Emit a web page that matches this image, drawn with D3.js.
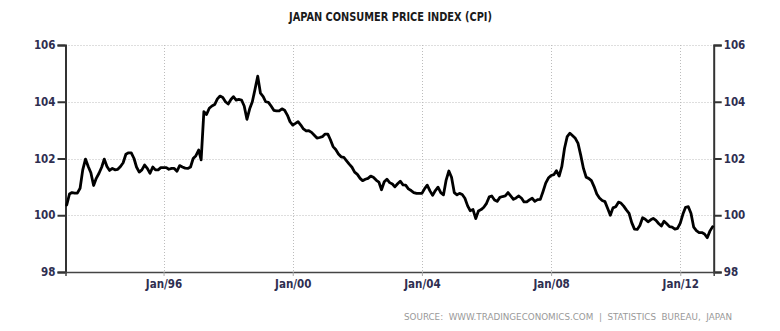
<!DOCTYPE html>
<html><head><meta charset="utf-8">
<script src="https://cdn.jsdelivr.net/npm/d3@7/dist/d3.min.js"></script>
<style>
html,body{margin:0;padding:0;background:#fff;}
svg{display:block;}
</style></head>
<body>
<svg id="chart" width="780" height="331"></svg>
<script>
// ---- data ----
const title = "JAPAN CONSUMER PRICE INDEX (CPI)";
const sourceText = "SOURCE:  WWW.TRADINGECONOMICS.COM  |  STATISTICS  BUREAU,  JAPAN";
const firstMonth = [1993, 0]; // Jan 1993, monthly observations
const cpiValues = [
100.36,100.75,100.8,100.78,100.78,100.95,101.6,101.98,101.72,101.5,101.05,101.3,
101.48,101.7,101.98,101.72,101.58,101.65,101.6,101.62,101.72,101.85,102.15,102.2,
102.2,102.0,101.7,101.52,101.6,101.77,101.65,101.48,101.7,101.6,101.6,101.68,
101.68,101.68,101.62,101.65,101.65,101.55,101.75,101.7,101.66,101.65,101.7,102.0,
102.1,102.3,101.95,103.65,103.55,103.77,103.85,103.9,104.1,104.2,104.15,104.0,
103.92,104.08,104.18,104.06,104.08,104.06,103.85,103.38,103.75,104.0,104.45,104.9,
104.3,104.18,104.0,103.98,103.85,103.7,103.68,103.68,103.75,103.7,103.53,103.3,
103.18,103.24,103.3,103.18,103.04,102.97,102.98,102.92,102.82,102.72,102.74,102.77,
102.86,102.86,102.67,102.42,102.32,102.16,102.06,102.04,101.92,101.8,101.69,101.52,
101.44,101.3,101.22,101.27,101.3,101.38,101.34,101.24,101.17,100.9,101.18,101.27,
101.15,101.1,101.0,101.11,101.2,101.07,101.06,100.93,100.87,100.8,100.77,100.77,
100.77,100.94,101.06,100.86,100.7,100.87,100.99,100.8,100.72,101.24,101.56,101.34,
100.8,100.72,100.77,100.73,100.6,100.33,100.16,100.2,99.88,100.15,100.2,100.28,
100.42,100.65,100.68,100.54,100.49,100.63,100.66,100.68,100.8,100.68,100.56,100.61,
100.68,100.6,100.47,100.47,100.54,100.6,100.49,100.55,100.56,100.83,101.13,101.31,
101.4,101.43,101.57,101.38,101.71,102.36,102.77,102.89,102.8,102.71,102.53,102.12,
101.65,101.34,101.3,101.22,101.01,100.75,100.61,100.52,100.48,100.25,100.0,100.26,
100.3,100.46,100.43,100.32,100.19,100.07,99.74,99.51,99.5,99.64,99.91,99.86,
99.77,99.84,99.89,99.82,99.71,99.62,99.79,99.7,99.6,99.58,99.51,99.54,
99.72,100.05,100.28,100.3,100.07,99.58,99.46,99.39,99.39,99.34,99.21,99.44,
99.6
];
const yTicks = [98, 100, 102, 104, 106];
const xTickYears = [1996, 2000, 2004, 2008, 2012];

// ---- layout ----
const svg = d3.select("#chart");
const plotLeft = 65.5, plotRight = 713.7, plotTop = 45, plotBottom = 272;
const labelColor = "#2e2e50";
const font = "'DejaVu Sans Condensed','DejaVu Sans',sans-serif";

const data = cpiValues.map((v, i) => ({date: new Date(firstMonth[0], firstMonth[1] + i, 1), value: v}));

const x = d3.scaleTime()
  .domain([new Date(1992, 11, 18), new Date(2013, 0, 13)])
  .range([plotLeft, plotRight]);
const y = d3.scaleLinear().domain([98, 106]).range([plotBottom, plotTop]);

// title
svg.append("text")
  .attr("x", 390.5).attr("y", 21)
  .attr("text-anchor", "middle")
  .attr("font-family", font).attr("font-weight", "bold").attr("font-size", 11.5)
  .attr("fill", "#1a1a1a")
  .attr("textLength", 203).attr("lengthAdjust", "spacingAndGlyphs")
  .text(title);

// horizontal grid
svg.append("g").selectAll("line").data(yTicks.filter(d => d > 98)).join("line")
  .attr("x1", plotLeft).attr("x2", plotRight)
  .attr("y1", d => Math.round(y(d)) + 0.5).attr("y2", d => Math.round(y(d)) + 0.5)
  .attr("stroke", "#bcbcbc").attr("stroke-width", 1).attr("stroke-dasharray", "1,2");

// vertical grid
const xTicks = xTickYears.map(yr => new Date(yr, 0, 1));
svg.append("g").selectAll("line").data(xTicks).join("line")
  .attr("x1", d => Math.round(x(d)) + 0.5).attr("x2", d => Math.round(x(d)) + 0.5)
  .attr("y1", plotTop).attr("y2", plotBottom)
  .attr("stroke", "#bcbcbc").attr("stroke-width", 1).attr("stroke-dasharray", "1,2");

// left axis
const yAxisL = d3.axisLeft(y).tickValues(yTicks).tickSize(8).tickPadding(2).tickFormat(d3.format("d"));
const gL = svg.append("g").attr("transform", `translate(${plotLeft},0)`).call(yAxisL);
// right axis
const yAxisR = d3.axisRight(y).tickValues(yTicks).tickSize(8).tickPadding(2).tickFormat(d3.format("d"));
const gR = svg.append("g").attr("transform", `translate(${plotRight},0)`).call(yAxisR);
[gL, gR].forEach(g => {
  g.select(".domain").attr("stroke", "#333").attr("stroke-width", 2);
  g.selectAll(".tick line").attr("stroke", "#333").attr("stroke-width", 2);
  g.selectAll(".tick text").attr("font-family", font).attr("font-weight", "bold")
    .attr("font-size", 11.5).attr("fill", labelColor);
});

// bottom axis
const xAxis = d3.axisBottom(x).tickValues(xTicks).tickSize(4).tickPadding(4)
  .tickFormat(d3.timeFormat("Jan/%y"));
const gB = svg.append("g").attr("transform", `translate(0,${plotBottom})`).call(xAxis);
gB.select(".domain").attr("stroke", "#444").attr("stroke-width", 1.5);
gB.selectAll(".tick line").attr("stroke", "#aaa");
gB.selectAll(".tick text").attr("font-family", font).attr("font-weight", "bold")
  .attr("font-size", 11.5).attr("fill", labelColor);

// line
const line = d3.line().x(d => x(d.date)).y(d => y(d.value));
svg.append("path").datum(data)
  .attr("d", line)
  .attr("fill", "none").attr("stroke", "#000")
  .attr("stroke-width", 2.8).attr("stroke-linejoin", "round").attr("stroke-linecap", "round");

// source
svg.append("text")
  .attr("x", 732).attr("y", 320)
  .attr("text-anchor", "end")
  .attr("font-family", font).attr("font-size", 9)
  .attr("fill", "#999")
  .attr("xml:space", "preserve").style("white-space", "pre")
  .attr("textLength", 328).attr("lengthAdjust", "spacingAndGlyphs")
  .text(sourceText);
</script>
</body></html>
